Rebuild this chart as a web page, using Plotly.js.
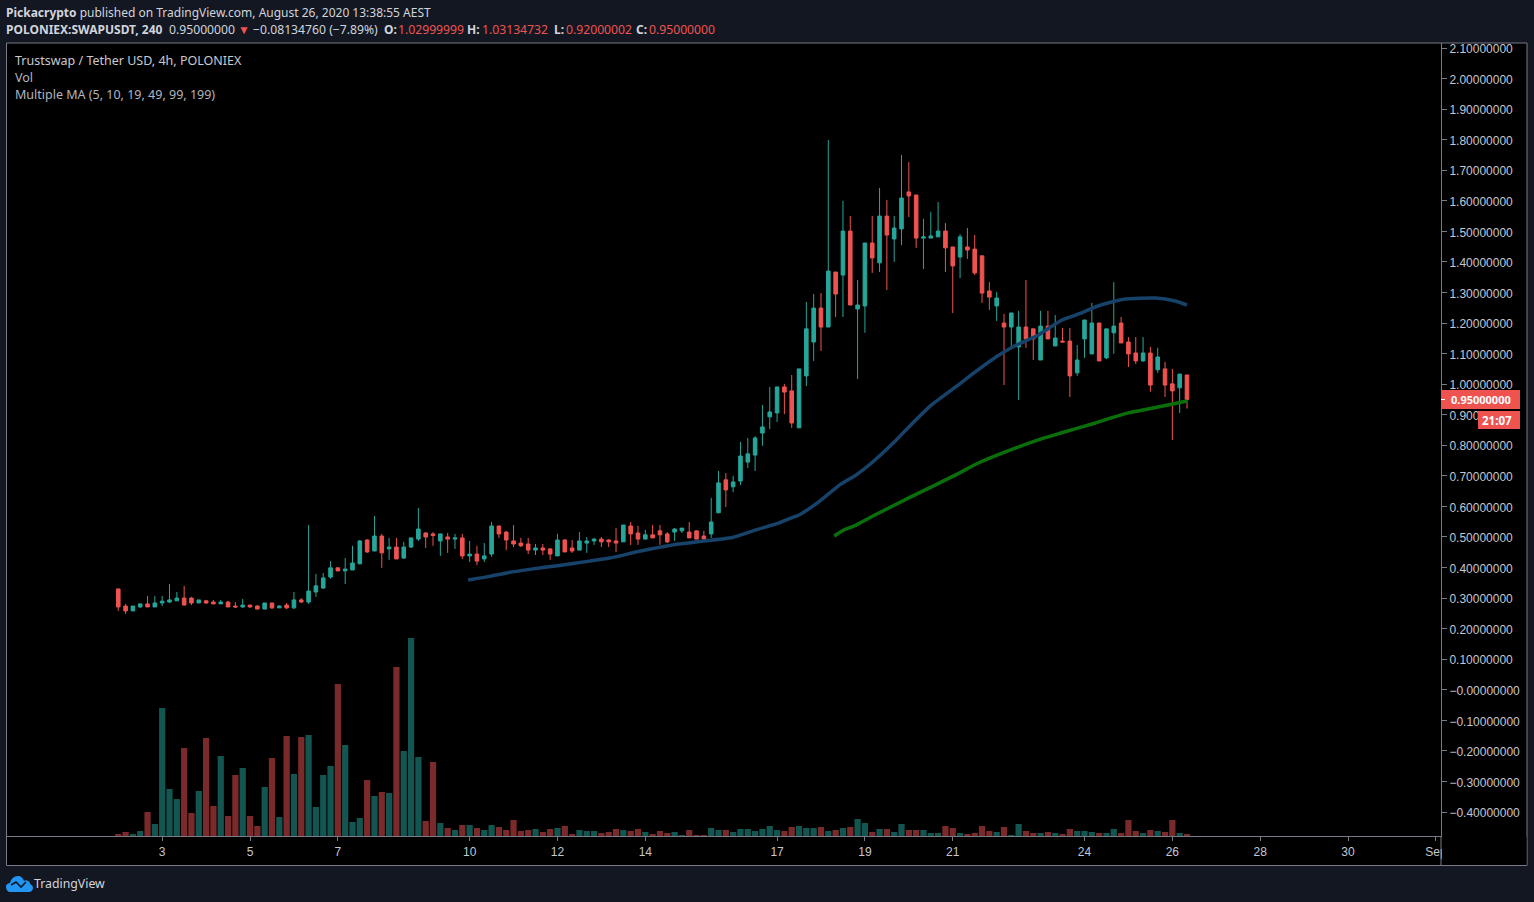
<!DOCTYPE html>
<html>
<head>
<meta charset="utf-8">
<script src="https://cdn.plot.ly/plotly-3.0.1.min.js"></script>
<style>
  html, body { margin: 0; padding: 0; background: #131722; overflow: hidden; }
  #chart { position: absolute; left: 0; top: 0; }
  #logo { position: absolute; left: 6px; top: 875px; }
</style>
</head>
<body>
<div id="chart"></div>
<svg id="logo" width="27" height="17" viewBox="0 0 27 17">
  <path d="M0 12 C0 9 2 8 4 8 C5 4 8 1 12 1 C15 1 17 3 18 6 C19 5 21 5 22 6 C24 7 24 8 24 9 C26 10 27 11 27 13 C27 15 25 17 23 17 L4 17 C2 17 0 15 0 12 Z" fill="#2196f3"/>
  <path d="M5 10 L10 7 L15 12 L20 7" stroke="#131722" stroke-width="1.6" fill="none"/>
</svg>
<script>
const opens = [
  0.330,0.274,0.258,0.271,0.281,0.271,0.284,0.287,0.291,0.300,
  0.300,0.284,0.291,0.287,0.281,0.287,0.274,0.271,0.277,0.274,
  0.264,0.284,0.268,0.277,0.268,0.294,0.287,0.320,0.333,0.369,
  0.399,0.389,0.392,0.412,0.490,0.454,0.503,0.461,0.467,0.431,
  0.467,0.493,0.513,0.510,0.487,0.500,0.493,0.497,0.438,0.444,
  0.428,0.444,0.536,0.516,0.487,0.480,0.477,0.457,0.464,0.461,
  0.438,0.490,0.464,0.457,0.480,0.487,0.493,0.490,0.487,0.484,
  0.536,0.513,0.493,0.507,0.520,0.510,0.516,0.520,0.516,0.520,
  0.503,0.510,0.579,0.687,0.664,0.683,0.745,0.768,0.840,0.893,
  0.906,0.991,0.978,0.857,1.027,1.138,1.249,1.187,1.367,1.357,
  1.501,1.246,1.256,1.462,1.397,1.550,1.475,1.508,1.629,1.619,
  1.478,1.478,1.482,1.501,1.449,1.416,1.449,1.442,1.420,1.305,
  1.256,1.200,1.187,1.122,1.187,1.181,1.079,1.190,1.125,1.141,
  1.141,1.037,1.148,1.099,1.200,1.086,1.168,1.200,1.138,1.102,
  1.076,1.102,1.047,1.050,1.001,0.988,1.030
];
const highs = [
  0.330,0.281,0.274,0.281,0.307,0.307,0.307,0.346,0.320,0.340,
  0.304,0.294,0.294,0.294,0.294,0.291,0.287,0.297,0.277,0.277,
  0.284,0.284,0.277,0.284,0.320,0.300,0.539,0.379,0.382,0.421,
  0.399,0.431,0.471,0.490,0.493,0.569,0.510,0.497,0.497,0.484,
  0.497,0.595,0.516,0.516,0.510,0.513,0.510,0.510,0.487,0.471,
  0.480,0.549,0.536,0.520,0.539,0.497,0.497,0.477,0.477,0.464,
  0.510,0.493,0.490,0.516,0.500,0.497,0.500,0.493,0.529,0.539,
  0.549,0.536,0.523,0.539,0.539,0.516,0.529,0.529,0.549,0.520,
  0.520,0.628,0.716,0.709,0.700,0.811,0.824,0.830,0.932,0.991,
  0.991,1.001,1.030,1.050,1.269,1.295,1.298,1.799,1.367,1.600,
  1.550,1.341,1.462,1.550,1.642,1.603,1.550,1.750,1.727,1.619,
  1.541,1.564,1.596,1.527,1.449,1.491,1.511,1.488,1.420,1.334,
  1.302,1.230,1.233,1.240,1.341,1.181,1.240,1.240,1.226,1.184,
  1.184,1.128,1.210,1.266,1.200,1.181,1.334,1.220,1.154,1.154,
  1.154,1.122,1.119,1.073,1.050,1.033,1.031
];
const lows = [
  0.258,0.248,0.258,0.268,0.271,0.271,0.274,0.284,0.291,0.277,
  0.277,0.284,0.281,0.281,0.281,0.271,0.268,0.268,0.268,0.264,
  0.264,0.264,0.268,0.264,0.264,0.284,0.281,0.304,0.330,0.363,
  0.389,0.346,0.392,0.412,0.448,0.454,0.399,0.425,0.428,0.428,
  0.464,0.487,0.464,0.471,0.438,0.448,0.461,0.428,0.418,0.408,
  0.418,0.435,0.497,0.457,0.467,0.467,0.444,0.441,0.441,0.425,
  0.438,0.451,0.448,0.457,0.448,0.474,0.467,0.467,0.451,0.484,
  0.474,0.474,0.493,0.497,0.474,0.480,0.487,0.513,0.497,0.493,
  0.493,0.497,0.579,0.598,0.647,0.670,0.726,0.716,0.798,0.853,
  0.876,0.902,0.857,0.857,0.994,1.076,1.109,1.187,1.220,1.220,
  1.259,1.017,1.168,1.364,1.367,1.308,1.400,1.455,1.547,1.446,
  1.377,1.478,1.482,1.367,1.233,1.347,1.410,1.357,1.266,1.243,
  1.207,0.997,1.119,0.948,1.119,1.079,1.079,1.148,1.125,1.138,
  0.958,1.027,1.086,1.099,1.076,1.082,1.099,1.135,1.056,1.066,
  1.073,0.975,1.037,0.958,0.817,0.906,0.920
];
const closes = [
  0.271,0.258,0.274,0.281,0.271,0.284,0.290,0.294,0.300,0.277,
  0.284,0.294,0.284,0.281,0.287,0.271,0.271,0.277,0.271,0.264,
  0.284,0.268,0.274,0.268,0.294,0.287,0.323,0.340,0.366,0.399,
  0.389,0.395,0.415,0.487,0.451,0.503,0.448,0.467,0.428,0.467,
  0.497,0.526,0.500,0.505,0.510,0.493,0.497,0.438,0.444,0.421,
  0.438,0.536,0.510,0.490,0.477,0.471,0.457,0.464,0.457,0.444,
  0.490,0.451,0.454,0.487,0.487,0.493,0.484,0.484,0.480,0.539,
  0.510,0.493,0.507,0.497,0.507,0.484,0.526,0.529,0.497,0.493,
  0.493,0.549,0.677,0.654,0.680,0.765,0.772,0.824,0.860,0.909,
  0.991,0.974,0.873,1.050,1.181,1.249,1.187,1.370,1.295,1.501,
  1.259,1.259,1.462,1.413,1.550,1.488,1.511,1.609,1.616,1.478,
  1.482,1.485,1.501,1.446,1.387,1.482,1.439,1.364,1.298,1.285,
  1.282,1.187,1.233,1.187,1.148,1.148,1.190,1.148,1.151,1.138,
  1.027,1.079,1.210,1.200,1.076,1.181,1.190,1.135,1.099,1.076,
  1.102,0.997,1.089,0.997,0.978,1.033,0.950
];
const volumes = [
  2,4,2,5,24,12,128,47,37,88,
  23,45,98,30,80,20,61,68,20,10,
  49,78,19,100,62,99,101,29,61,70,
  152,91,14,18,56,40,44,43,169,85,
  198,79,15,74,13,8,6,11,11,8,
  6,11,9,6,16,5,6,7,4,7,
  8,10,2,6,5,5,3,4,7,6,
  5,7,4,2,5,3,4,1,6,1,
  1,8,6,6,4,7,7,5,7,10,
  6,5,9,10,8,8,9,5,6,8,
  9,17,13,4,7,7,4,12,6,6,
  6,3,3,10,8,3,2,3,10,5,
  4,9,1,12,5,3,3,4,3,2,
  7,5,5,4,3,3,7,3,16,5,
  3,6,5,4,16,3,2
];

// moving averages, read at a few bars only
const ma49Bars = [47.8,50.7,53.4,56.2,60.3,64.4,67.1,71.2,73.9,76.6,79.4,83.9,87.1,90.3,91.6,93,95.7,98.7,100.8,102.9,105.9,108,111.1,114.4,116.9,119.9,122.7,125.7,128.9,131.6,133.5,135.7,137.6,141.7,144.4,146];
const ma49 = [0.359,0.371,0.384,0.394,0.407,0.421,0.431,0.453,0.466,0.477,0.485,0.498,0.523,0.546,0.559,0.572,0.615,0.673,0.703,0.742,0.808,0.860,0.932,0.991,1.037,1.089,1.128,1.161,1.210,1.233,1.253,1.269,1.279,1.282,1.272,1.259];
const ma99Bars = [97.8,99.1,100.8,102.9,108,111.1,114.4,117.5,121.9,126.1,128.9,133.5,135.3,138,140.7,143.4,146];
const ma99 = [0.503,0.523,0.539,0.566,0.628,0.664,0.703,0.742,0.785,0.821,0.841,0.873,0.887,0.906,0.919,0.932,0.945];

const dayTickBars = [6,18,30,48,60,72,90,102,114,132,144,156,168,180];
const dayTickLabels = ["3","5","7","10","12","14","17","19","21","24","26","28","30","Sep"];
const priceTicks = [2.1,2.0,1.9,1.8,1.7,1.6,1.5,1.4,1.3,1.2,1.1,1.0,0.9,0.8,0.7,0.6,0.5,0.4,0.3,0.2,0.1,0,-0.1,-0.2,-0.3,-0.4];
const priceTickLabels = ["2.10000000","2.00000000","1.90000000","1.80000000","1.70000000","1.60000000","1.50000000","1.40000000","1.30000000","1.20000000","1.10000000","1.00000000","0.90000000","0.80000000","0.70000000","0.60000000","0.50000000","0.40000000","0.30000000","0.20000000","0.10000000","\u22120.00000000","\u22120.10000000","\u22120.20000000","\u22120.30000000","\u22120.40000000"];

const UP = "#26a69a", DOWN = "#ef5350";
const UP_VOL = "#135550", DOWN_VOL = "#7a2a2a";
const AXIS = "#787b86";
const FONT = "Noto Sans, Liberation Sans, sans-serif";
const TICK_FONT = "Liberation Sans, Arial, sans-serif";
const HEADER = "#d1d4dc";

const W = 1534, H = 902;
const plotL = 7, plotR = 1441, plotT = 43, plotB = 836;
const px = (x) => (x - plotL) / (plotR - plotL);
const py = (y) => (plotB - y) / (plotB - plotT);

const bars = closes.map((c, i) => i);

const label = (text, x, y, size, color) => ({
  text: text, xref: "paper", yref: "paper", x: px(x - 2), y: py(y),
  xanchor: "left", yanchor: "middle", showarrow: false,
  font: { family: FONT, size: size, color: color }
});
const box = (x0, y0, x1, y1, fill, layer) => ({
  type: "rect", xref: "paper", yref: "paper",
  x0: px(x0), x1: px(x1), y0: py(y0), y1: py(y1),
  fillcolor: fill, line: { width: 0 }, layer: layer || "above"
});

const annotations = [
  label("<b>Pickacrypto</b> published on TradingView.com, August 26, 2020 13:38:55 AEST", 6, 12.5, 12, HEADER),
  label("<b>POLONIEX:SWAPUSDT, 240</b>", 6, 29.5, 12, HEADER),
  label("0.95000000", 169, 29.5, 12.2, HEADER),
  label("\u25BC", 238, 29.5, 12, DOWN),
  label("\u22120.08134760 (\u22127.89%)", 253, 29.5, 12.2, HEADER),
  label("<b>O:</b>", 384, 29.5, 12, HEADER),
  label("1.02999999", 398, 29.5, 12.2, DOWN),
  label("<b>H:</b>", 467, 29.5, 12, HEADER),
  label("1.03134732", 482, 29.5, 12.2, DOWN),
  label("<b>L:</b>", 554, 29.5, 12, HEADER),
  label("0.92000002", 566, 29.5, 12.2, DOWN),
  label("<b>C:</b>", 636, 29.5, 12, HEADER),
  label("0.95000000", 649, 29.5, 12.2, DOWN),
  label("Trustswap / Tether USD, 4h, POLONIEX", 15, 60.5, 12.5, "#c8cad0"),
  label("Vol", 15, 77.5, 12.5, "#b2b5be"),
  label("Multiple MA (5, 10, 19, 49, 99, 199)", 15, 94.5, 12.5, "#b2b5be"),
  label("<b>0.95000000</b>", 1451, 399, 11, "#ffffff"),
  label("<b>21:07</b>", 1482, 420, 11.5, "#ffffff"),
  label("TradingView", 34, 883.5, 12.3, HEADER)
];

const shapes = [
  // black panel with its frame, behind the axes
  {
    type: "rect", xref: "paper", yref: "paper", layer: "below",
    x0: px(6.5), x1: px(1527), y0: py(43), y1: py(865.5),
    fillcolor: "#000000", line: { color: AXIS, width: 1 }
  },
  // "Sep" is cut off by the price scale
  box(1442, 837, 1526.5, 865, "#000000"),
  { type: "line", xref: "paper", yref: "paper", x0: px(1441), x1: px(1441), y0: py(836), y1: py(865.5), line: { color: AXIS, width: 1 }, layer: "above" },
  box(1441, 390, 1520, 409, DOWN),
  box(1478, 411, 1520, 429, DOWN),
  { type: "line", xref: "paper", yref: "paper", x0: px(1441), x1: px(1445), y0: py(399.5), y1: py(399.5), line: { color: "#ffffff", width: 1 }, layer: "above" }
];

const traces = [
  {
    type: "bar", x: bars, y: volumes, yaxis: "y2",
    marker: { color: closes.map((c, i) => (c >= opens[i] ? UP_VOL : DOWN_VOL)), line: { width: 0 } },
    hoverinfo: "skip", showlegend: false
  },
  {
    type: "candlestick", x: bars, open: opens, high: highs, low: lows, close: closes,
    increasing: { line: { color: UP, width: 1 }, fillcolor: UP },
    decreasing: { line: { color: DOWN, width: 1 }, fillcolor: DOWN },
    whiskerwidth: 0, hoverinfo: "skip", showlegend: false
  },
  {
    type: "scatter", mode: "lines", x: ma49Bars, y: ma49,
    line: { color: "#17436a", width: 3.5, shape: "spline", smoothing: 0.5 }, hoverinfo: "skip", showlegend: false
  },
  {
    type: "scatter", mode: "lines", x: ma99Bars, y: ma99,
    line: { color: "#0a6e0a", width: 3.5, shape: "spline", smoothing: 0.5 }, hoverinfo: "skip", showlegend: false
  }
];

const layout = {
  width: W, height: H,
  margin: { l: plotL, r: W - plotR, t: plotT, b: H - plotB, pad: 0 },
  paper_bgcolor: "#131722",
  plot_bgcolor: "#000000",
  font: { family: FONT, size: 12, color: HEADER },
  showlegend: false,
  bargap: 0.15,
  boxgap: 0.3,
  xaxis: {
    type: "linear",
    range: [-15.2, 180.7],
    rangeslider: { visible: false },
    showgrid: false, zeroline: false,
    showline: true, linecolor: AXIS, linewidth: 1,
    tickmode: "array", tickvals: dayTickBars, ticktext: dayTickLabels,
    ticks: "outside", ticklen: 4, tickcolor: AXIS,
    ticklabelstandoff: 1,
    tickfont: { family: TICK_FONT, size: 12, color: "#c4c7cf" }
  },
  yaxis: {
    side: "right",
    range: [-0.4785, 2.1164],
    showgrid: false, zeroline: false,
    showline: true, linecolor: AXIS, linewidth: 1,
    tickmode: "array", tickvals: priceTicks, ticktext: priceTickLabels,
    ticks: "outside", ticklen: 5, tickcolor: AXIS,
    ticklabelshift: 1,
    tickfont: { family: TICK_FONT, size: 12, color: "#c4c7cf" }
  },
  yaxis2: {
    overlaying: "y",
    range: [0, 793],
    visible: false,
    fixedrange: true
  },
  shapes: shapes,
  annotations: annotations
};

Plotly.newPlot("chart", traces, layout, { displayModeBar: false, staticPlot: true });
</script>
</body>
</html>
